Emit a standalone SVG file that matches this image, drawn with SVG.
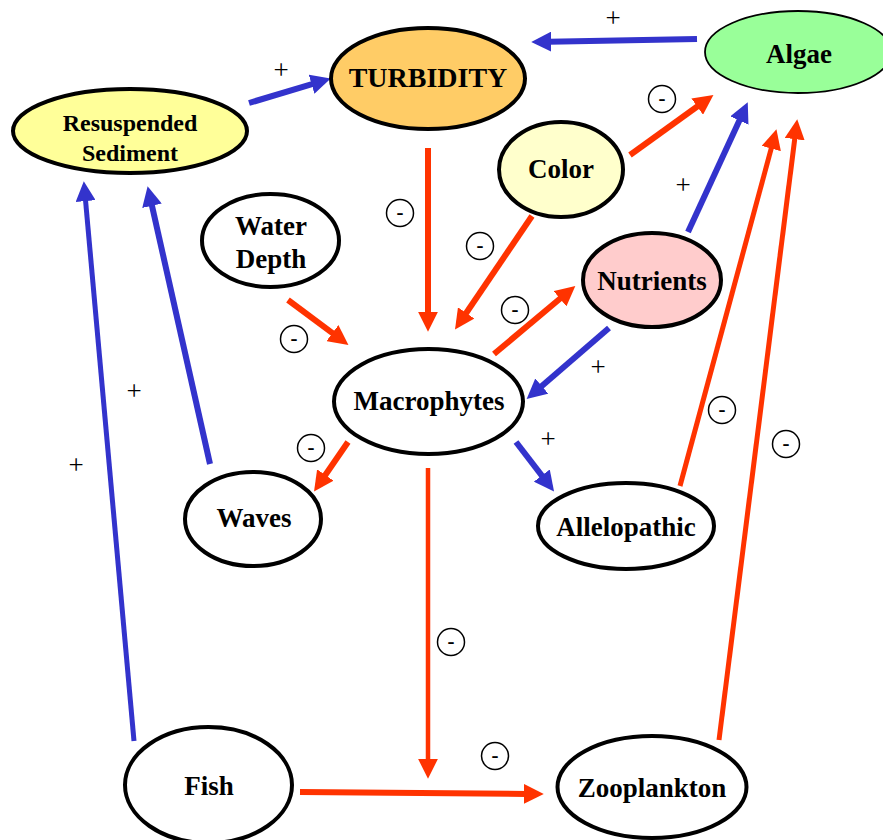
<svg xmlns="http://www.w3.org/2000/svg" width="883" height="840" viewBox="0 0 883 840">
<style>
.n{stroke:#000;stroke-width:4}
.t{font-family:"Liberation Serif","Times New Roman",serif;font-weight:bold;font-size:27px;text-anchor:middle;fill:#000}
.b{stroke:#3333CC;stroke-width:6;fill:none;marker-end:url(#ab)}
.r{stroke:#FF3300;stroke-width:6;fill:none;marker-end:url(#ar)}
.p{font-family:"Liberation Serif","Times New Roman",serif;font-size:27px;text-anchor:middle;fill:#000}
.mc{fill:#fff;stroke:#000;stroke-width:1.5}
.m{font-family:"Liberation Serif","Times New Roman",serif;font-weight:bold;font-size:21px;text-anchor:middle;fill:#000}
</style>
<defs>
<marker id="ab" markerUnits="userSpaceOnUse" markerWidth="20" markerHeight="20" refX="2" refY="9" orient="auto" viewBox="0 0 18 18"><path d="M0,0 L18,9 L0,18 z" fill="#3333CC"/></marker>
<marker id="ar" markerUnits="userSpaceOnUse" markerWidth="20" markerHeight="20" refX="2" refY="9" orient="auto" viewBox="0 0 18 18"><path d="M0,0 L18,9 L0,18 z" fill="#FF3300"/></marker>
</defs>
<rect width="883" height="840" fill="#fff"/>
<g id="connectors">
<line class="b" x1="249" y1="103" x2="313.7" y2="83.6"/>
<line class="b" x1="697" y1="39" x2="549" y2="41.7"/>
<line class="r" x1="428" y1="148" x2="428" y2="314"/>
<line class="r" x1="630" y1="155" x2="699" y2="105.3"/>
<line class="r" x1="532" y1="216" x2="465" y2="314.8"/>
<line class="b" x1="688" y1="232" x2="740.3" y2="118.5"/>
<line class="r" x1="288" y1="300" x2="334.2" y2="334.4"/>
<line class="r" x1="494" y1="354" x2="561.7" y2="297.3"/>
<line class="b" x1="609" y1="328" x2="540.1" y2="387.5"/>
<line class="r" x1="348" y1="442" x2="324.1" y2="476.8"/>
<line class="b" x1="516" y1="442" x2="543.2" y2="477.3"/>
<line class="b" x1="210" y1="464" x2="151.5" y2="203.6"/>
<line class="b" x1="134" y1="741" x2="85.4" y2="198.9" style="stroke-width:5"/>
<line class="r" x1="428" y1="468" x2="428" y2="761" style="stroke-width:4.5"/>
<line class="r" x1="300" y1="792" x2="526" y2="793.9"/>
<line class="r" x1="680" y1="486" x2="771.8" y2="146.4" style="stroke-width:5"/>
<line class="r" x1="719" y1="740" x2="795" y2="136.9" style="stroke-width:5"/>
</g>
<g id="labels">
<text class="p" x="281" y="79">+</text>
<text class="p" x="613" y="27">+</text>
<text class="p" x="683" y="194">+</text>
<text class="p" x="598" y="376">+</text>
<text class="p" x="548" y="448">+</text>
<text class="p" x="134" y="400">+</text>
<text class="p" x="76" y="474">+</text>
<ellipse class="mc" cx="400" cy="213" rx="13.5" ry="13.5"/><text class="m" x="400" y="219">-</text>
<ellipse class="mc" cx="662" cy="99" rx="13.5" ry="13.5"/><text class="m" x="662" y="105">-</text>
<ellipse class="mc" cx="480" cy="246" rx="13.5" ry="13.5"/><text class="m" x="480" y="252">-</text>
<ellipse class="mc" cx="294" cy="339" rx="13.5" ry="13.5"/><text class="m" x="294" y="345">-</text>
<ellipse class="mc" cx="515" cy="310" rx="13.5" ry="13.5"/><text class="m" x="515" y="316">-</text>
<ellipse class="mc" cx="311" cy="448" rx="13.5" ry="13.5"/><text class="m" x="311" y="454">-</text>
<ellipse class="mc" cx="722" cy="410" rx="13.5" ry="13.5"/><text class="m" x="722" y="416">-</text>
<ellipse class="mc" cx="786" cy="444" rx="13.5" ry="13.5"/><text class="m" x="786" y="450">-</text>
<ellipse class="mc" cx="451" cy="642" rx="13.5" ry="13.5"/><text class="m" x="451" y="648">-</text>
<ellipse class="mc" cx="495" cy="756" rx="13.5" ry="13.5"/><text class="m" x="495" y="762">-</text>
</g>
<g id="resuspended"><ellipse class="n" cx="130" cy="131" rx="117" ry="42" fill="#FFFF99"/><text class="t" x="130" y="131" style="font-size:24px">Resuspended</text><text class="t" x="130" y="161" style="font-size:24px">Sediment</text></g>
<g id="turbidity"><ellipse class="n" cx="428" cy="78.5" rx="97" ry="50.5" fill="#FFCC66"/><text class="t" x="428" y="87" style="font-size:28px">TURBIDITY</text></g>
<g id="algae"><ellipse cx="798" cy="52" rx="93" ry="41" fill="#99FF99" stroke="#000" stroke-width="1.8"/><text class="t" x="799" y="63">Algae</text></g>
<g id="color"><ellipse class="n" cx="561" cy="169.5" rx="62" ry="47.5" fill="#FFFFCC"/><text class="t" x="561" y="178">Color</text></g>
<g id="water-depth"><ellipse class="n" cx="270.5" cy="240.5" rx="68.5" ry="46.5" fill="#fff"/><text class="t" x="271" y="235">Water</text><text class="t" x="271" y="268">Depth</text></g>
<g id="nutrients"><ellipse class="n" cx="652" cy="280" rx="69" ry="47" fill="#FFCCCC"/><text class="t" x="652" y="290">Nutrients</text></g>
<g id="macrophytes"><ellipse class="n" cx="428.5" cy="401.5" rx="94.5" ry="52.5" fill="#fff"/><text class="t" x="429" y="410">Macrophytes</text></g>
<g id="waves"><ellipse class="n" cx="253" cy="519" rx="68" ry="47" fill="#fff"/><text class="t" x="254" y="527">Waves</text></g>
<g id="allelopathic"><ellipse class="n" cx="626" cy="526" rx="88" ry="43" fill="#fff"/><text class="t" x="626" y="536">Allelopathic</text></g>
<g id="fish"><ellipse class="n" cx="208.5" cy="785" rx="83.5" ry="58" fill="#fff"/><text class="t" x="209" y="795">Fish</text></g>
<g id="zooplankton"><ellipse class="n" cx="652" cy="787" rx="94.5" ry="51" fill="#fff"/><text class="t" x="652" y="797">Zooplankton</text></g>
</svg>
